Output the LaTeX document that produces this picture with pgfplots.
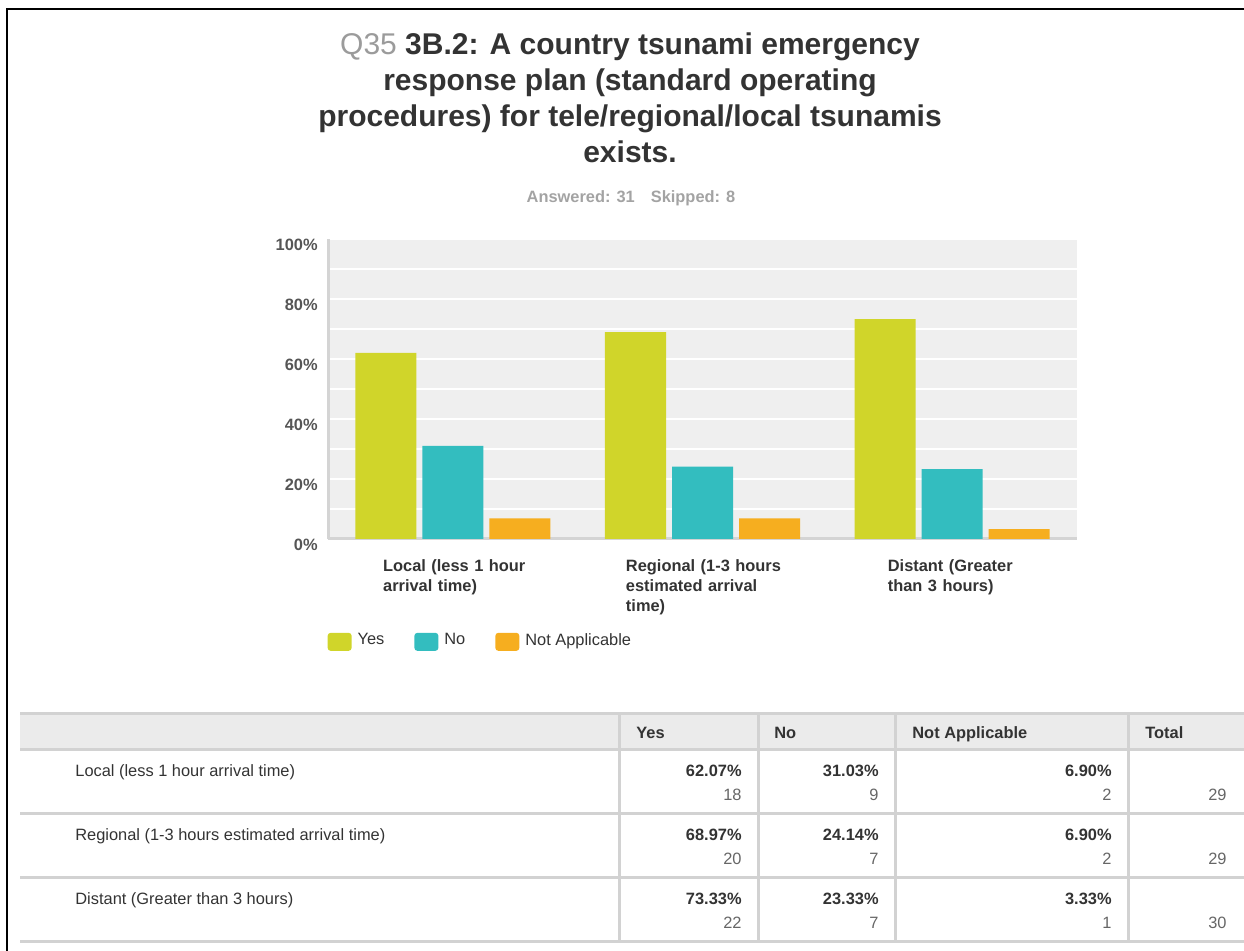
\documentclass[border=0pt]{standalone}
\usepackage{fontspec}
\setmainfont{Liberation Sans}
\usepackage{pgfplots}
\pgfplotsset{compat=1.18}

\definecolor{yescol}{HTML}{D0D52A}
\definecolor{nocol}{HTML}{33BDBF}
\definecolor{nacol}{HTML}{F6AE1F}
\definecolor{plotbg}{HTML}{EFEFEF}
\definecolor{axgray}{HTML}{D4D4D4}
\definecolor{txt}{HTML}{333333}
\definecolor{ticktxt}{HTML}{555555}
\definecolor{q35}{HTML}{9B9B9B}
\definecolor{sub}{HTML}{A3A3A3}
\definecolor{hdr}{HTML}{EBEBEB}
\definecolor{rule}{HTML}{D2D2D2}
\definecolor{cnt}{HTML}{666666}

\newcommand\sm{\fontsize{8.2}{10}\selectfont}
\newcommand\lab[2]{\hspace*{#1}\begin{tabular}[t]{@{}l@{}}#2\end{tabular}}

\begin{document}
\begin{tikzpicture}
\useasboundingbox (0,0) rectangle (622pt,-475.5pt);

\begin{scope}[x=0.5pt,y=-0.5pt]
  % frame
  \draw[line width=1.3pt] (7,951) -- (7,9) -- (1244,9);
  % title
  \node[anchor=north, align=center, inner sep=0pt, text=txt,
        font=\fontsize{15}{18}\selectfont\bfseries] at (630,32)
    {{\color{q35}\mdseries Q35} 3B.2: A country tsunami emergency\\
     response plan (standard operating\\
     procedures) for tele/regional/local tsunamis\\
     exists.};
  \node[font=\sm\bfseries, text=sub] at (631,198) {Answered: 31\hspace{8pt}Skipped: 8};

  % table
  \fill[hdr] (20,714) rectangle (1244,750);
  \foreach \y in {714,750,814,878,942}
    \draw[rule, line width=1.5pt] (20,\y) -- (1244,\y);
  \foreach \x in {619,758,895,1128}
    \draw[rule, line width=1.5pt] (\x,714) -- (\x,942);
  \foreach \x/\t in {636/Yes, 774/No, 912/Not Applicable, 1145/Total}
    \node[anchor=base west, inner sep=0pt, font=\sm\bfseries, text=txt] at (\x,739) {\t};
  \foreach \y/\lbl/\a/\b/\c/\na/\nb/\nc/\tot in {
      777/Local (less 1 hour arrival time)/62.07/31.03/6.90/18/9/2/29,
      841/Regional (1-3 hours estimated arrival time)/68.97/24.14/6.90/20/7/2/29,
      905/Distant (Greater than 3 hours)/73.33/23.33/3.33/22/7/1/30} {
    \node[anchor=base west, inner sep=0pt, font=\sm, text=txt] at (75,\y) {\lbl};
    \node[anchor=base east, inner sep=0pt, font=\sm\bfseries, text=txt] at (742,\y) {\a\%};
    \node[anchor=base east, inner sep=0pt, font=\sm\bfseries, text=txt] at (879,\y) {\b\%};
    \node[anchor=base east, inner sep=0pt, font=\sm\bfseries, text=txt] at (1112,\y) {\c\%};
    \node[anchor=base east, inner sep=0pt, font=\sm, text=cnt] at (742,\y+24) {\na};
    \node[anchor=base east, inner sep=0pt, font=\sm, text=cnt] at (879,\y+24) {\nb};
    \node[anchor=base east, inner sep=0pt, font=\sm, text=cnt] at (1112,\y+24) {\nc};
    \node[anchor=base east, inner sep=0pt, font=\sm, text=cnt] at (1227,\y+24) {\tot};
  }
\end{scope}

\begin{axis}[
    at={(164pt,-269.5pt)}, anchor=south west,
    scale only axis, width=374.5pt, height=150pt,
    xmin=-0.5, xmax=2.5, ymin=0, ymax=100,
    ybar=3pt, bar width=30.5pt,
    axis background/.style={fill=plotbg},
    axis x line*=bottom, axis y line*=left,
    axis line style={draw=axgray, line width=1.5pt, -},
    ytick={0,20,...,100}, minor ytick={10,30,50,70,90},
    ymajorgrids, yminorgrids,
    major grid style={white, line width=1pt},
    minor grid style={white, line width=1pt},
    major tick length=0pt, minor tick length=0pt,
    /pgf/number format/assume math mode=true,
    yticklabel={\pgfmathprintnumber{\tick}\%},
    yticklabel style={font=\sm\bfseries, text=ticktxt, inner sep=0pt, xshift=-5pt, yshift=-3pt},
    xtick={0,1,2},
    xticklabels={
      {\lab{3.9pt}{Local (less 1 hour\\arrival time)}},
      {\lab{0.5pt}{Regional (1-3 hours\\estimated arrival\\time)}},
      {\lab{6.6pt}{Distant (Greater\\than 3 hours)}}},
    xticklabel style={font=\sm\bfseries, text=txt, text width=77.5pt, align=left,
                      anchor=north, inner sep=0pt, yshift=-9pt},
    legend columns=-1,
    legend style={at={(-0.001,-0.30)}, anchor=north west, draw=none, fill=none,
                  font=\sm, text=txt, inner sep=0pt,
                  /tikz/every even column/.append style={column sep=13pt}},
    legend image code/.code={\fill[#1, rounded corners=1.5pt] (0pt,-5pt) rectangle (12pt,4pt);
                             \path (13pt,0pt);},
  ]
  \addplot[fill=yescol, draw=none] coordinates {(0,62.07) (1,68.97) (2,73.33)};
  \addplot[fill=nocol, draw=none] coordinates {(0,31.03) (1,24.14) (2,23.33)};
  \addplot[fill=nacol, draw=none] coordinates {(0,6.90) (1,6.90) (2,3.33)};
  \legend{Yes, No, Not Applicable}
\end{axis}
\end{tikzpicture}
\end{document}
